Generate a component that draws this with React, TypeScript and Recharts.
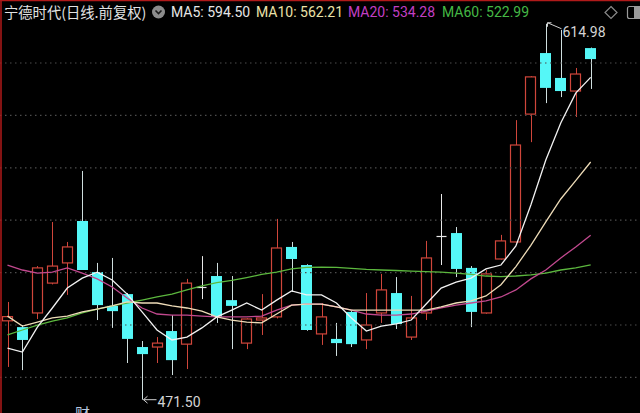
import React from "react";
import { ComposedChart, Bar, Line, XAxis, YAxis, ReferenceLine } from "recharts";

// 40 trading days + 3 empty slots on the right
const categories = [
  "1", "2", "3", "4", "5", "6", "7", "8", "9", "10",
  "11", "12", "13", "14", "15", "16", "17", "18", "19", "20",
  "21", "22", "23", "24", "25", "26", "27", "28", "29", "30",
  "31", "32", "33", "34", "35", "36", "37", "38", "39", "40",
  "41", "42", "43",
];

const opens = [501.6, 499.2, 504.6, 516.0, 523.7, 539.7, 520.2, 507.3, 511.8, 491.6, 491.6, 497.7, 492.7, 514.5, 518.7, 509.5, 493.1, 501.9, 503.1, 529.8, 522.9, 496.6, 494.7, 505.0, 494.3, 504.6, 512.2, 495.4, 504.6, 534.0, 535.1, 521.8, 504.6, 525.2, 531.7, 580.5, 603.8, 594.3, 589.3, 605.7];
const closes = [503.2, 494.3, 521.8, 522.5, 529.8, 521.0, 507.6, 505.3, 494.7, 488.9, 493.1, 486.6, 516.0, 514.5, 503.1, 507.3, 502.3, 502.7, 529.4, 525.2, 498.1, 503.1, 493.1, 492.7, 500.0, 513.4, 500.4, 502.7, 525.6, 534.0, 521.4, 505.0, 519.5, 532.1, 568.7, 594.7, 590.5, 589.3, 595.8, 601.5];
const highs = [508.8, 500.0, 522.5, 539.3, 531.7, 558.8, 523.7, 525.6, 512.2, 493.9, 495.4, 503.8, 517.6, 526.3, 523.7, 518.7, 502.6, 511.8, 540.5, 531.7, 523.2, 508.4, 500.8, 505.3, 512.2, 519.5, 518.3, 511.1, 532.1, 550.0, 537.4, 522.5, 521.0, 534.4, 578.2, 595.0, 614.98, 612.6, 598.1, 605.9];
const lows = [484.0, 482.8, 502.3, 515.5, 511.5, 521.0, 501.9, 498.9, 485.5, 471.5, 485.5, 480.9, 483.2, 509.9, 500.8, 490.8, 490.8, 496.2, 502.5, 512.6, 497.8, 492.4, 488.2, 491.6, 490.8, 500.8, 498.5, 494.3, 501.9, 522.9, 518.3, 499.2, 504.3, 525.0, 531.5, 569.8, 584.7, 587.0, 579.4, 590.1];

const ma5 = [491.2, 489.7, 499.2, 506.5, 514.1, 517.9, 520.2, 517.2, 511.8, 505.0, 498.1, 494.3, 495.4, 498.9, 503.1, 505.7, 508.4, 505.7, 509.5, 513.0, 511.5, 511.5, 508.4, 502.7, 497.7, 499.6, 500.4, 501.9, 508.0, 514.1, 516.4, 517.9, 521.4, 522.9, 530.2, 545.8, 563.0, 577.1, 588.5, 594.5];
const ma10 = [503.4, 499.6, 501.1, 502.7, 503.4, 505.0, 506.1, 507.3, 508.8, 508.4, 508.4, 507.3, 506.5, 505.3, 503.1, 501.9, 501.1, 500.8, 504.2, 507.6, 508.0, 508.0, 506.9, 505.7, 505.7, 505.7, 505.7, 505.7, 505.7, 506.9, 508.4, 509.2, 511.1, 515.4, 522.3, 530.4, 539.4, 548.1, 555.1, 562.21];
const ma20 = [522.9, 521.0, 519.8, 520.2, 521.8, 519.8, 517.6, 514.5, 510.3, 506.5, 504.2, 503.8, 503.8, 503.4, 503.1, 503.1, 503.1, 503.4, 505.7, 507.6, 508.0, 508.0, 506.9, 505.7, 504.2, 503.8, 503.8, 504.2, 505.3, 506.5, 507.6, 508.4, 509.2, 510.7, 513.4, 517.6, 521.0, 525.6, 529.8, 534.28];
const ma60 = [496.2, 498.1, 500.0, 501.5, 502.7, 504.6, 506.1, 507.3, 508.4, 509.5, 510.7, 511.8, 513.4, 514.9, 516.2, 517.0, 518.1, 519.3, 520.2, 521.4, 522.0, 522.1, 522.0, 521.6, 521.2, 521.0, 520.8, 520.6, 520.4, 520.2, 519.8, 519.3, 518.7, 518.5, 518.7, 519.1, 519.8, 521.0, 521.8, 522.99];

const gridValues = [480, 500, 520, 540, 560, 580, 600];

const title = "宁德时代(日线.前复权)";
const legendItems = [
  { label: "MA5: 594.50", color: "#e6e6e6", x: 171 },
  { label: "MA10: 562.21", color: "#ece2a8", x: 256 },
  { label: "MA20: 534.28", color: "#c23fc4", x: 348 },
  { label: "MA60: 522.99", color: "#45b845", x: 442 },
];

const UP = "#d0463b";
const DOWN = "#55f7f7";
const DOWN_WICK = "#cfdede";
const DOJI = "#e8e8e8";

const maxHigh = Math.max(...highs);
const minLow = Math.min(...lows);

const data = categories.map((c, i) => ({
  cat: c,
  open: i < opens.length ? opens[i] : null,
  close: i < closes.length ? closes[i] : null,
  high: i < highs.length ? highs[i] : null,
  low: i < lows.length ? lows[i] : null,
  ma5: i < ma5.length ? ma5[i] : null,
  ma10: i < ma10.length ? ma10[i] : null,
  ma20: i < ma20.length ? ma20[i] : null,
  ma60: i < ma60.length ? ma60[i] : null,
}));

function Candle(props: any) {
  const { x, y, width, height, payload } = props;
  if (!payload || payload.high == null) return null;
  const { open, close, high, low } = payload;
  const top = Math.min(y, y + height);
  const h = Math.abs(height);
  const span = high - low;
  const py = (p: number) => top + (span === 0 ? 0 : ((high - p) / span) * h);
  const cx = Math.round(x + width / 2) + 0.5;
  const yHigh = py(high);
  const yLow = py(low);
  const yO = py(open);
  const yC = py(close);
  const bodyTop = Math.min(yO, yC);
  const bodyBot = Math.max(yO, yC);
  const bx = Math.round(x) + 0.5;
  const bw = Math.round(width) - 1;
  const els: any[] = [];
  if (open === close) {
    els.push(<line key="w" x1={cx} x2={cx} y1={yHigh} y2={yLow} stroke={DOJI} strokeWidth={1} />);
    els.push(<line key="b" x1={bx} x2={bx + bw} y1={Math.round(yO) + 0.5} y2={Math.round(yO) + 0.5} stroke={DOJI} strokeWidth={1.2} />);
  } else if (close > open) {
    els.push(<line key="w1" x1={cx} x2={cx} y1={yHigh} y2={bodyTop} stroke={UP} strokeWidth={1} />);
    els.push(<line key="w2" x1={cx} x2={cx} y1={bodyBot} y2={yLow} stroke={UP} strokeWidth={1} />);
    els.push(<rect key="b" x={bx} y={bodyTop} width={bw} height={Math.max(bodyBot - bodyTop, 1)} fill="none" stroke={UP} strokeWidth={1.2} />);
  } else {
    els.push(<line key="w" x1={cx} x2={cx} y1={yHigh} y2={yLow} stroke={DOWN_WICK} strokeWidth={1} />);
    els.push(<rect key="b" x={bx - 0.5} y={bodyTop} width={bw + 1} height={Math.max(bodyBot - bodyTop, 1.5)} fill={DOWN} />);
  }
  if (high === maxHigh) {
    els.push(<path key="ah" d={`M${cx + 1},${yHigh - 1} L${cx + 15},${yHigh + 5}`} stroke="#cfcfcf" strokeWidth={1} fill="none" />);
    els.push(<path key="ah2" d={`M${cx + 1},${yHigh - 1} l4,0 M${cx + 1},${yHigh - 1} l0,4`} stroke="#cfcfcf" strokeWidth={1} fill="none" />);
    els.push(<text key="th" x={cx + 16} y={yHigh + 13} fill="#d4d4d4" fontSize={14} fontFamily="Roboto, 'Liberation Sans', sans-serif">{high.toFixed(2)}</text>);
  }
  if (low === minLow) {
    els.push(<path key="al" d={`M${cx + 1},${yLow} L${cx + 14},${yLow}`} stroke="#cfcfcf" strokeWidth={1} fill="none" />);
    els.push(<path key="al2" d={`M${cx + 5},${yLow - 3.5} L${cx + 1},${yLow} L${cx + 5},${yLow + 3.5}`} stroke="#cfcfcf" strokeWidth={1} fill="none" />);
    els.push(<text key="tl" x={cx + 15} y={yLow + 7} fill="#d4d4d4" fontSize={14} fontFamily="Roboto, 'Liberation Sans', sans-serif">{low.toFixed(2)}</text>);
  }
  return <g>{els}</g>;
}

export default function App() {
  return (
    <div style={{ position: "absolute", left: 0, top: 0, width: 640, height: 413, overflow: "hidden", background: "#000" }}>
      <ComposedChart width={643} height={413} data={data} margin={{ top: 0, right: 0, bottom: 0, left: 0 }}>
        <XAxis dataKey="cat" hide />
        <YAxis hide domain={[466.42, 624.05]} allowDataOverflow />
        {gridValues.map((v) => (
          <ReferenceLine key={v} y={v} stroke="#4d4d4d" strokeDasharray="1.5 3.5" strokeWidth={1.2} />
        ))}
        <Bar
          dataKey={(d: any) => (d.high == null ? null : [d.low, d.high])}
          barSize={11}
          shape={(p: any) => <Candle {...p} />}
          isAnimationActive={false}
        />
        <Line type="linear" dataKey="ma60" stroke="#5cb83e" strokeWidth={1.3} dot={false} activeDot={false} isAnimationActive={false} />
        <Line type="linear" dataKey="ma20" stroke="#c2498f" strokeWidth={1.3} dot={false} activeDot={false} isAnimationActive={false} />
        <Line type="linear" dataKey="ma10" stroke="#eedcb8" strokeWidth={1.3} dot={false} activeDot={false} isAnimationActive={false} />
        <Line type="linear" dataKey="ma5" stroke="#f2f2f2" strokeWidth={1.3} dot={false} activeDot={false} isAnimationActive={false} />
      </ComposedChart>
      <svg width={640} height={413} style={{ position: "absolute", left: 0, top: 0, pointerEvents: "none" }}>
        <line x1={0} x2={640} y1={0.5} y2={0.5} stroke="#b01a1a" strokeWidth={1.5} />
        <line x1={1} x2={1} y1={0} y2={413} stroke="#b01a1a" strokeWidth={1.5} />
        <text x={4} y={17.5} fill="#e2e2e2" fontSize={14.3} fontFamily="'Noto Sans CJK SC', sans-serif">{title}</text>
        <circle cx={158.5} cy={12} r={6.5} fill="#8c8c8c" />
        <path d="M155.5,10.5 L158.5,13.5 L161.5,10.5" stroke="#1a1a1a" strokeWidth={1.6} fill="none" />
        {legendItems.map((it) => (
          <text key={it.label} x={it.x} y={17} fill={it.color} fontSize={14} fontFamily="Roboto, 'Liberation Sans', sans-serif">{it.label}</text>
        ))}
        <path d="M611,6.5 L617,12.5 L611,18.5 L605,12.5 Z" stroke="#8a8a8a" strokeWidth={1.2} fill="none" />
        <rect x={627.5} y={6.5} width={14} height={12} rx={2} stroke="#9a9a9a" strokeWidth={1.2} fill="none" />
        <rect x={634} y={7} width={6} height={11} fill="#9a9a9a" />
        <text x={75} y={419} fill="#b8c8e0" fontSize={15} fontFamily="'Noto Sans CJK SC', sans-serif">财</text>
      </svg>
    </div>
  );
}
